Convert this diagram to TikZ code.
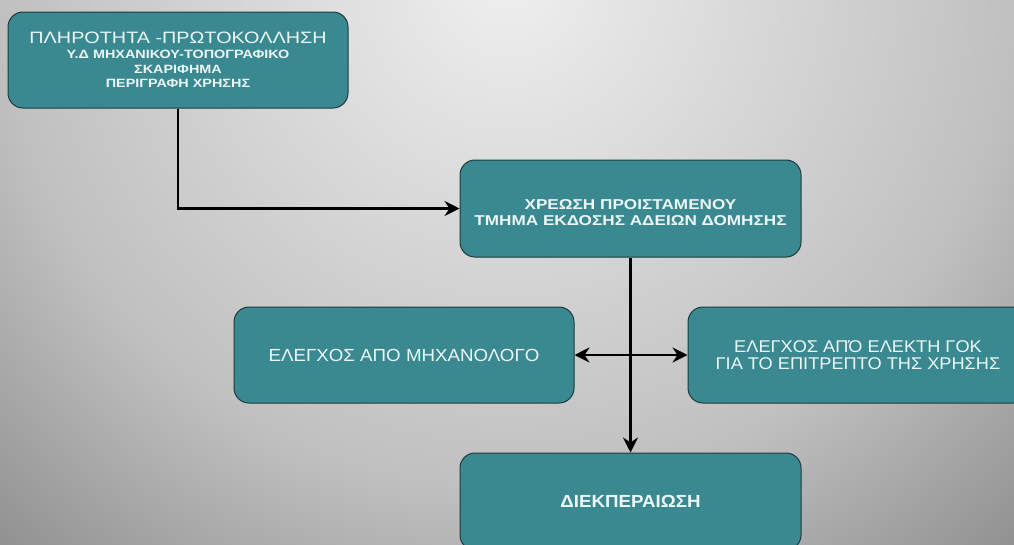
\documentclass[tikz,border=0pt]{standalone}
\usepackage{fontspec}
\usetikzlibrary{arrows.meta}
\newfontfamily\lab[FakeStretch=1.2]{Liberation Sans}
\newfontfamily\labn[FakeStretch=1.07]{Liberation Sans}
\definecolor{boxfill}{RGB}{58,137,145}
\definecolor{boxedge}{RGB}{28,58,62}
\definecolor{boxtext}{RGB}{236,246,247}
\definecolor{bgA}{gray}{0.937}
\definecolor{bgB}{gray}{0.753}
\definecolor{bgC}{gray}{0.569}
% soft grey backdrop, brightest near the top centre
\pgfdeclareradialshading{backdrop}{\pgfpoint{0bp}{0bp}}{%
  color(0bp)=(bgA); color(16.7bp)=(bgB); color(25bp)=(bgC); color(50bp)=(bgC)}
\tikzset{
  stepbox/.style={draw=boxedge, line width=1pt, fill=boxfill, rounded corners=15pt,
    minimum width=340pt, minimum height=96pt, inner sep=0pt, align=center,
    text=boxtext, font=\lab},
  tip/.tip={Stealth[length=15pt,width=15pt,inset=5pt]},
  flow/.style={line width=2.8pt, draw=black, -tip},
  flowboth/.style={line width=2.8pt, draw=black, tip-tip},
}
\begin{document}
\begin{tikzpicture}[x=1pt,y=-1pt]
\useasboundingbox (0,0) rectangle (1014,544);
\begin{scope}
  \clip (0,0) rectangle (1014,544);
  \shade[shading=backdrop] (507,-20) circle (760pt);
\end{scope}

\node[stepbox, font=\lab\bfseries\fontsize{12}{14}\selectfont] (b1) at (178,60) {%
  {\mdseries\fontsize{16.5}{16}\selectfont ΠΛΗΡΟΤΗΤΑ -ΠΡΩΤΟΚΟΛΛΗΣΗ}\\[1pt]
  Υ.Δ ΜΗΧΑΝΙΚΟΥ-ΤΟΠΟΓΡΑΦΙΚΟ\\[1pt]
  ΣΚΑΡΙΦΗΜΑ\\[0.5pt]
  ΠΕΡΙΓΡΑΦΗ ΧΡΗΣΗΣ};

\node[stepbox, minimum width=341pt, minimum height=97pt] (b2) at (630.5,208.5) {};
\node[align=center, text=boxtext, inner sep=0pt, yshift=-4pt,
      font=\lab\bfseries\fontsize{14.3}{15}\selectfont] (b2text) at (b2.center) {%
  ΧΡΕΩΣΗ ΠΡΟΙΣΤΑΜΕΝΟΥ\\[1pt]
  ΤΜΗΜΑ ΕΚΔΟΣΗΣ ΑΔΕΙΩΝ ΔΟΜΗΣΗΣ};

\node[stepbox, font=\labn\fontsize{17.5}{16}\selectfont] (b3) at (404,355) {%
  ΕΛΕΓΧΟΣ ΑΠΟ ΜΗΧΑΝΟΛΟΓΟ};

\node[stepbox, font=\labn\fontsize{17}{16}\selectfont] (b4) at (858,355) {%
  ΕΛΕΓΧΟΣ ΑΠΌ ΕΛΕΚΤΗ ΓΟΚ\\[1pt]
  ΓΙΑ ΤΟ ΕΠΙΤΡΕΠΤΟ ΤΗΣ ΧΡΗΣΗΣ};

\node[stepbox, minimum width=341pt, minimum height=97pt,
      font=\labn\bfseries\fontsize{17.5}{16}\selectfont] (b5) at (630.5,501.5) {%
  ΔΙΕΚΠΕΡΑΙΩΣΗ};

\draw[flow] (b1.south) |- (b2.west);
\draw[flow] (b2.south) -- (b5.north);
\draw[flowboth] (b3.east) -- (b4.west);
\end{tikzpicture}
\end{document}
